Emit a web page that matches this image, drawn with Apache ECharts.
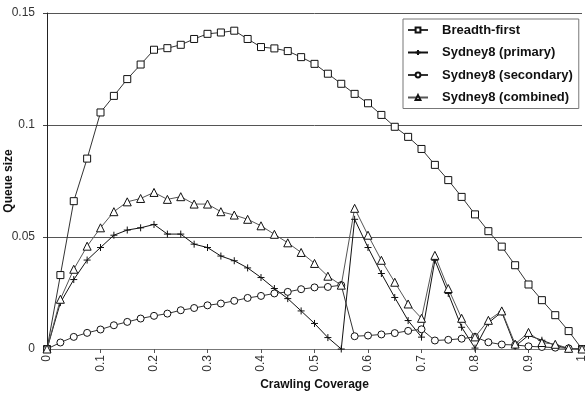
<!DOCTYPE html>
<html>
<head>
<meta charset="utf-8">
<script src="https://cdn.jsdelivr.net/npm/echarts@6/dist/echarts.min.js"></script>
<style>html,body{margin:0;padding:0;background:#fff}#c{width:585px;height:393px}</style>
</head>
<body>
<div id="c"></div>
<script>
var coverage = [0,0.025,0.05,0.075,0.1,0.125,0.15,0.175,0.2,0.225,0.25,0.275,0.3,0.325,0.35,0.375,0.4,0.425,0.45,0.475,0.5,0.525,0.55,0.575,0.6,0.625,0.65,0.675,0.7,0.725,0.75,0.775,0.8,0.825,0.85,0.875,0.9,0.925,0.95,0.975,1];
var breadthFirst = [0,0.033,0.066,0.085,0.1056,0.113,0.1205,0.127,0.1336,0.1343,0.1358,0.1384,0.1407,0.1413,0.1421,0.1384,0.1348,0.1342,0.133,0.1303,0.1273,0.1229,0.1184,0.1139,0.1097,0.1045,0.0992,0.0947,0.0893,0.0822,0.0754,0.0679,0.0601,0.0526,0.0457,0.0374,0.0288,0.0218,0.0151,0.008,0];
var sydneyPrimary = [0,0.0207,0.031,0.0397,0.0453,0.0508,0.0531,0.0541,0.0556,0.0513,0.0513,0.0468,0.0453,0.0415,0.0394,0.0362,0.0319,0.027,0.0225,0.017,0.0114,0.0051,0,0.0579,0.0453,0.0337,0.023,0.0127,0.0053,0.0396,0.0248,0.0097,0.0004,0.0117,0.0165,0.0012,0.0061,0.0039,0.0017,0.0002,0];
var sydneySecondary = [0,0.0029,0.0054,0.0072,0.0087,0.0106,0.0121,0.0136,0.0148,0.0158,0.0173,0.0183,0.0195,0.0203,0.0215,0.0228,0.0237,0.0248,0.0255,0.0267,0.0275,0.0277,0.0285,0.0057,0.006,0.0065,0.0071,0.0081,0.0088,0.0038,0.0041,0.0046,0.0054,0.003,0.002,0.0018,0.0012,0.0009,0.0006,0.0003,0];
var sydneyCombined = [0,0.0222,0.0356,0.0459,0.0541,0.0613,0.0657,0.0672,0.0699,0.0668,0.068,0.0647,0.0647,0.0613,0.0598,0.0579,0.055,0.0512,0.0474,0.0431,0.0382,0.0325,0.0285,0.0628,0.0508,0.0396,0.0298,0.0201,0.0137,0.0418,0.027,0.0137,0.0054,0.0128,0.017,0.0022,0.0074,0.0029,0.0021,0.0003,0];
var seriesNames = ['Breadth-first','Sydney8 (primary)','Sydney8 (secondary)','Sydney8 (combined)'];

function pairs(ys){ return coverage.map(function(x,i){ return [x, ys[i]]; }); }
var plus = 'path://M0,5L10,5M5,0L5,10';

function mk(name, ys, symbol, size, lineColor){
  return {
    name: name, type: 'line', data: pairs(ys),
    symbol: symbol, symbolSize: size, showSymbol: true,
    lineStyle: {color: lineColor, width: 1},
    itemStyle: {color: '#fff', borderColor: '#111', borderWidth: 1},
    emphasis: {disabled: true},
    animation: false
  };
}

var chart = echarts.init(document.getElementById('c'));
chart.setOption({
  animation: false,
  backgroundColor: '#fff',
  grid: {left: 47, right: 3, top: 13, bottom: 44, containLabel: false, outerBoundsMode: 'none'},
  legend: {
    orient: 'vertical', left: 403, top: 19,
    data: seriesNames,
    backgroundColor: '#fff', borderColor: '#777', borderWidth: 1,
    padding: [4, 6, 4, 4],
    itemWidth: 20, itemHeight: 6, itemGap: 8.5,
    textStyle: {fontFamily: 'Arial, Liberation Sans', fontWeight: 'bold', fontSize: 13, color: '#111', lineHeight: 14, padding: [0, 0, 0, 9]}
  },
  xAxis: {
    type: 'value', min: 0, max: 1, interval: 0.1,
    name: 'Crawling Coverage', nameLocation: 'middle', nameGap: 30, nameMoveOverlap: false,
    nameTextStyle: {fontFamily: 'Arial, Liberation Sans', fontWeight: 'bold', fontSize: 12, color: '#111'},
    axisLine: {show: true, lineStyle: {color: '#777', width: 1}},
    axisTick: {show: true, length: 4, lineStyle: {color: '#555'}},
    axisLabel: {rotate: 90, margin: 6, fontFamily: 'Arial, Liberation Sans', fontSize: 12, color: '#333',
      formatter: function(v){ return String(Math.round(v*10)/10); }},
    splitLine: {show: false}
  },
  yAxis: {
    type: 'value', min: 0, max: 0.15, interval: 0.05,
    name: 'Queue size', nameLocation: 'middle', nameGap: 32, nameMoveOverlap: false,
    nameTextStyle: {fontFamily: 'Arial, Liberation Sans', fontWeight: 'bold', fontSize: 12, color: '#111'},
    axisLine: {show: true, lineStyle: {color: '#222', width: 1}},
    axisTick: {show: true, length: 4, lineStyle: {color: '#444'}},
    axisLabel: {margin: 12, fontFamily: 'Arial, Liberation Sans', fontSize: 12, color: '#333',
      formatter: function(v){ return String(Math.round(v*100)/100); }},
    splitLine: {show: true, lineStyle: {color: '#555', width: 1}}
  },
  series: [
    mk(seriesNames[0], breadthFirst, 'rect', 7, '#333'),
    mk(seriesNames[1], sydneyPrimary, plus, 7, '#111'),
    mk(seriesNames[2], sydneySecondary, 'circle', 7, '#333'),
    mk(seriesNames[3], sydneyCombined, 'triangle', 8, '#555')
  ]
});
</script>
</body>
</html>
